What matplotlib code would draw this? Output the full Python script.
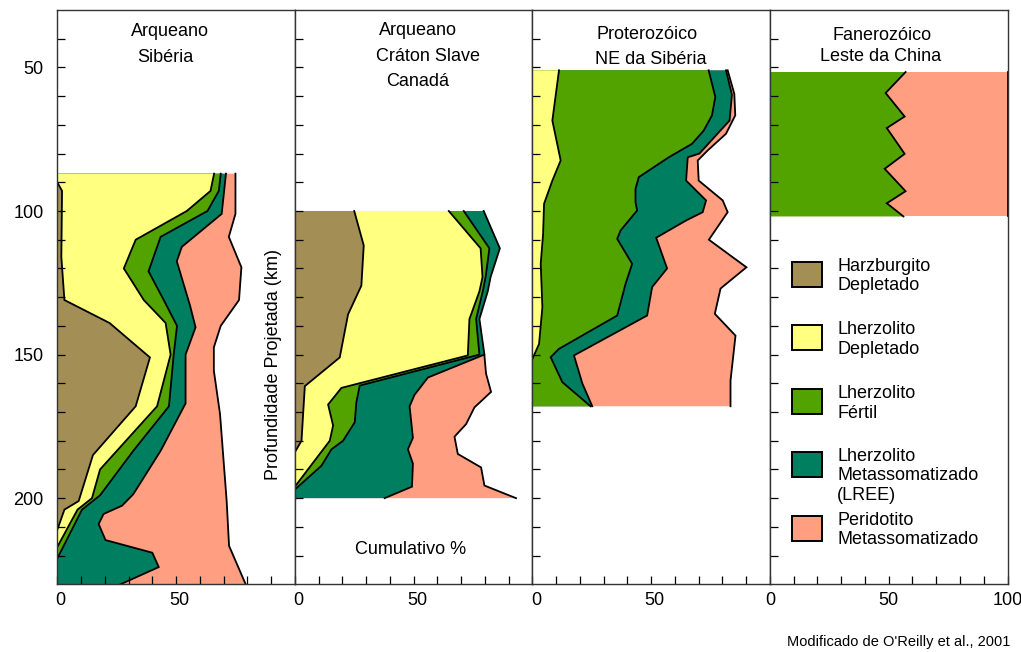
import matplotlib
matplotlib.use("Agg")
import matplotlib.pyplot as plt
from matplotlib.patches import Rectangle
from matplotlib.ticker import FixedLocator, NullFormatter
from matplotlib.transforms import ScaledTranslation

plt.rcParams['font.family'] = ['Liberation Sans', 'DejaVu Sans']

# ---------------------------------------------------------------------------
# Cumulative lithology profiles: depth (km) and cumulative percentage of the
# right-hand boundary of each layer.
# ---------------------------------------------------------------------------

# Arqueano - Sibéria
sib_harz_km = [90, 93, 116, 131, 139, 151, 168, 185, 201, 204, 211]
sib_harz_pct = [0, 2, 1.7, 3, 22, 39, 33, 15, 9, 3, 0]
sib_ldep_km = [87, 93, 100, 110, 120, 131, 139, 150, 168, 179, 190, 200, 204, 217]
sib_ldep_pct = [66, 64.5, 54.5, 33, 28, 36.4, 45.6, 47.7, 42, 30, 18, 14.6, 8.5, 0]
sib_lfert_km = [87, 93, 100, 109, 121, 131, 140, 150, 168, 183.5, 199, 204, 221]
sib_lfert_pct = [68.8, 68, 63.2, 43.5, 38.4, 44.8, 50.4, 49, 47, 32, 18, 10.4, 0]
sib_lmet_km = [87, 101, 112.5, 117.5, 133, 140.5, 150, 167, 183.5, 198.6, 202.6,
               205.5, 209, 214.6, 219, 224, 230]
sib_lmet_pct = [71, 69.2, 52.4, 50.3, 55.9, 58.2, 54, 54, 43.5, 32, 27.3,
                19.5, 17.4, 20.3, 40, 42.7, 26.6]
sib_pmet_km = [87, 101, 109, 119.6, 131, 140, 147.5, 155.6, 170.7, 201, 216.6, 230]
sib_pmet_pct = [75, 75, 72.2, 77.5, 76.5, 68.8, 65.9, 65.9, 68.5, 71.3, 72.3, 79.3]

# Arqueano - Cráton Slave, Canadá
sla_harz_km = [100, 112, 126, 136, 151, 161, 180, 184]
sla_harz_pct = [25, 29, 28, 22.4, 18.9, 4.2, 2.8, 0]
sla_ldep_km = [100, 113, 123, 128, 137.6, 150.3, 161.6, 167.4, 174.7, 180, 196]
sla_ldep_pct = [64.8, 78.2, 79, 77.7, 73.5, 72.8, 19.6, 14, 16.1, 14.7, 0]
sla_lfert_km = [100, 113, 123, 128, 137.6, 150, 160.8, 166.6, 173.6, 180, 183,
                188.7, 197]
sla_lfert_pct = [71.1, 81.9, 80.3, 79.1, 76.3, 77.7, 27.3, 25.9, 25.2, 20.3, 15.4,
                 11.2, 0]
sla_lmet_km = [100, 113, 123, 128, 137.6, 150, 158, 164, 168, 179, 183, 188, 196, 200]
sla_lmet_pct = [79.5, 86.3, 82.4, 81.2, 77.7, 79.8, 56, 50.4, 48.3, 49.7, 47.6,
                49.7, 49.3, 37.8]
sla_pmet_km = [150.3, 156.7, 163, 168.4, 174.2, 178.6, 184.6, 189.3, 195.6, 200]
sla_pmet_pct = [79.8, 80.5, 82.6, 75.6, 72.1, 67.2, 68.6, 78.4, 79.8, 93.1]

# Proterozóico - NE da Sibéria
nes_ldep_km = [51, 68.5, 82.4, 89.4, 97.5, 108, 118.4, 133.5, 146.3, 151.5]
nes_ldep_pct = [11.2, 8.4, 11.9, 8.4, 4.9, 4.5, 3.5, 4.2, 2.8, 0]
nes_lfert_km = [51, 60.3, 66.7, 72, 76.6, 81.3, 88.2, 92.3, 96.9, 99.8, 106.8,
                109.7, 118.4, 125.4, 136.4, 148, 150.9, 159.6, 168]
nes_lfert_pct = [74.2, 77, 75.6, 72.1, 67.2, 57.4, 44.8, 43.4, 43.4, 44.1, 37.1,
                 35.7, 42, 39.2, 35.7, 11.2, 7.7, 12.6, 24.5]
nes_lmet_km = [51, 59.5, 68.5, 73, 80, 81.3, 89.4, 96.3, 100.4, 103.3, 109.3, 120,
               126.5, 136.4, 150.3, 160, 168]
nes_lmet_pct = [81.5, 84, 83, 78, 70.3, 65.4, 64.7, 73.1, 71.7, 64.7, 52.1, 56.7,
                50.4, 48.3, 17.5, 21, 25.2]
nes_pmet_km = [51, 59.2, 66.7, 73.1, 78.9, 82.4, 89.4, 96.3, 100.4, 110, 119.6,
               127, 135.8, 143.4, 159.1, 168]
nes_pmet_pct = [82.2, 85, 85.4, 81.5, 73.8, 69.6, 70, 80.1, 82.2, 74.3, 90.1,
                79.2, 76.8, 85.5, 83.4, 83.4]

# Fanerozóico - Leste da China
chi_lfert_km = [51.6, 58.9, 67.1, 71.1, 80.1, 85.3, 93.1, 97.3, 101.9]
chi_lfert_pct = [57.1, 48.7, 56.7, 49.2, 56.7, 48.3, 57.1, 49.2, 56.2]
chi_pmet_km = [51.6, 101.9]
chi_pmet_pct = [100, 100]

legend_labels = [
    ["Harzburgito", "Depletado"],
    ["Lherzolito", "Depletado"],
    ["Lherzolito", "Fértil"],
    ["Lherzolito", "Metassomatizado", "(LREE)"],
    ["Peridotito", "Metassomatizado"],
]
colors = ["#A38F55", "#FFFF80", "#52A300", "#007F60", "#FF9E80"]

# Layers per panel, outermost first (each is painted from 0 % to its boundary)
panels = [
    {"title": [("Arqueano", 170, 36), ("Sibéria", 165, 61.7)],
     "layers": [(4, sib_pmet_km, sib_pmet_pct), (3, sib_lmet_km, sib_lmet_pct),
                (2, sib_lfert_km, sib_lfert_pct), (1, sib_ldep_km, sib_ldep_pct),
                (0, sib_harz_km, sib_harz_pct)]},
    {"title": [("Arqueano", 417.5, 35), ("Cráton Slave", 428, 61), ("Canadá", 418, 86)],
     "layers": [(4, sla_pmet_km, sla_pmet_pct), (3, sla_lmet_km, sla_lmet_pct),
                (2, sla_lfert_km, sla_lfert_pct), (1, sla_ldep_km, sla_ldep_pct),
                (0, sla_harz_km, sla_harz_pct)]},
    {"title": [("Proterozóico", 646.7, 39), ("NE da Sibéria", 651, 64)],
     "layers": [(4, nes_pmet_km, nes_pmet_pct), (3, nes_lmet_km, nes_lmet_pct),
                (2, nes_lfert_km, nes_lfert_pct), (1, nes_ldep_km, nes_ldep_pct)]},
    {"title": [("Fanerozóico", 881.7, 40), ("Leste da China", 881, 61)],
     "layers": [(4, chi_pmet_km, chi_pmet_pct), (2, chi_lfert_km, chi_lfert_pct)]},
]

W, H = 1021, 652
fig = plt.figure(figsize=(W / 100, H / 100), dpi=100)


def fx(px):
    return px / W


def fy(py):
    return 1 - py / H


FS = 13
left0, pw, top, bot = 57.3, 237.55, 10.0, 584.3

for i, panel in enumerate(panels):
    ax = fig.add_axes([fx(left0 + i * pw), fy(bot), pw / W, (bot - top) / H])
    ax.set_xlim(0, 100)
    ax.set_ylim(230, 30)

    for idx, km, pct in panel["layers"]:
        xs = [0] + list(pct) + [0]
        ys = [km[0]] + list(km) + [km[-1]]
        ax.fill(xs, ys, color=colors[idx], lw=0, zorder=1)
        ax.plot(pct, km, color="black", lw=1.3, zorder=3,
                solid_joinstyle="miter", clip_on=True)

    # ticks
    ax.yaxis.set_major_locator(FixedLocator([50, 100, 150, 200]))
    ax.yaxis.set_minor_locator(FixedLocator([v for v in range(40, 230, 10)
                                             if v % 50]))
    xmaj = [0, 50, 100] if i == 3 else [0, 50]
    ax.xaxis.set_major_locator(FixedLocator(xmaj))
    ax.xaxis.set_minor_locator(FixedLocator([v for v in range(10, 100, 10) if v != 50]))
    ax.xaxis.set_minor_formatter(NullFormatter())
    ax.yaxis.set_minor_formatter(NullFormatter())
    ax.tick_params(which="both", direction="in", length=5.5, width=0.9,
                   color="black", top=False, right=False, labelsize=FS)
    ax.tick_params(axis="y", pad=10, labelleft=(i == 0))
    ax.tick_params(axis="x", pad=5.5)
    if i == 0:
        ax.set_yticklabels(["50", "100", "150", "200"])
    ax.set_xticklabels([str(v) for v in xmaj])
    if i < 3:
        shift = ScaledTranslation(3.5 / 100, 0, fig.dpi_scale_trans)
        for lbl in ax.get_xticklabels():
            lbl.set_transform(lbl.get_transform() + shift)
    for sp in ax.spines.values():
        sp.set_color("#333333")
        sp.set_linewidth(1.0)
        sp.set_zorder(4)

    for txt, px, py in panel["title"]:
        fig.text(fx(px), fy(py), txt, ha="center", va="baseline", fontsize=FS)

# axis annotations drawn inside the panels
fig.text(fx(273), fy(365), "Profundidade Projetada (km)", rotation=90,
         ha="center", va="center", fontsize=FS)
fig.text(fx(411), fy(549), "Cumulativo %", ha="center", va="center", fontsize=FS)

# legend inside the last panel
box_top = [262, 325, 389, 452, 516]
for j, (lines, c) in enumerate(zip(legend_labels, colors)):
    y0 = box_top[j]
    fig.add_artist(Rectangle((fx(792), fy(y0 + 25)), 30 / W, 25 / H,
                             transform=fig.transFigure, facecolor=c,
                             edgecolor="black", lw=1.4, zorder=5))
    for k, line in enumerate(lines):
        fig.text(fx(837), fy(y0 + 8.7 + k * 19.8), line, ha="left",
                 va="baseline", fontsize=FS, zorder=5)

fig.text(fx(1010), fy(646), "Modificado de O'Reilly et al., 2001", ha="right",
         va="baseline", fontsize=10.5)

fig.savefig("out.png", dpi=100)
